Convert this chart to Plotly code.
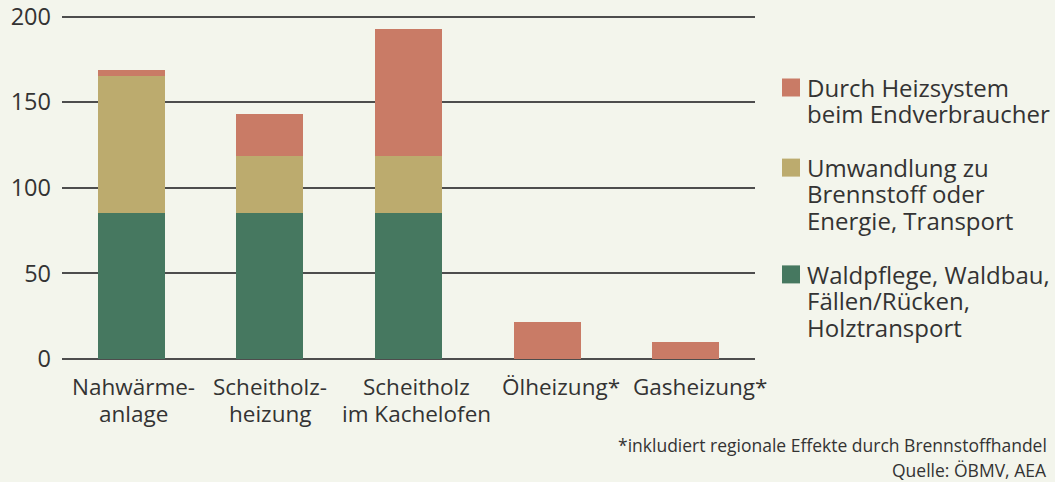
import plotly.graph_objects as go

# ---- data ----
categories = ["Nahwärme-<br>anlage", "Scheitholz-<br>heizung", "Scheitholz<br>im Kachelofen",
              "Ölheizung*", "Gasheizung*"]
name_wald = "Waldpflege, Waldbau,<br>Fällen/Rücken,<br>Holztransport"
name_umw = "Umwandlung zu<br>Brennstoff oder<br>Energie, Transport"
name_heiz = "Durch Heizsystem<br>beim Endverbraucher"
wald = [85, 85, 85, None, None]
umw = [80.5, 33.5, 33.5, None, None]
heiz = [3.3, 24.5, 74.5, 21.5, 10]
y_ticks = [0, 50, 100, 150, 200]
footnote = "*inkludiert regionale Effekte durch Brennstoffhandel"
source = "Quelle: ÖBMV, AEA"

# ---- style ----
C_WALD, C_UMW, C_HEIZ = "#467860", "#bcab6e", "#c97b66"
BG = "#f3f5ec"
TXT = "#333333"
GRID = "#4d4d4d"
FONT = "Open Sans"
K_BASE = 0.388  # baseline offset below bbox centre, in em

W, H = 1055, 482
L, R, T, B = 62, 300, 15, 123
PW, PH = W - L - R, H - T - B
label_xshift = [2, 0, 8, 14, 14]


def px_x(p):
    return (p - L) / PW


def px_y(p):
    return (H - B - p) / PH


fig = go.Figure()
for vals, name, col in [(wald, name_wald, C_WALD), (umw, name_umw, C_UMW), (heiz, name_heiz, C_HEIZ)]:
    fig.add_trace(go.Bar(x=categories, y=vals, name=name.replace("<br>", " "),
                         marker=dict(color=col, line=dict(width=0)),
                         showlegend=False, hoverinfo="y+name"))

shapes = []
annotations = []

# category labels (one annotation per line for tight line spacing)
CAT_FS, CAT_BASE, CAT_LS = 22.5, 395, 27.7
for i, cat in enumerate(categories):
    for j, line in enumerate(cat.split("<br>")):
        base = CAT_BASE + j * CAT_LS
        annotations.append(dict(xref="x", yref="paper", x=cat, y=px_y(base - K_BASE * CAT_FS),
                                xanchor="center", yanchor="middle", showarrow=False,
                                xshift=label_xshift[i], text=line,
                                font=dict(family=FONT, size=CAT_FS, color=TXT)))

# manual legend (top to bottom)
LEG_FS, LEG_BASE, LEG_LS = 24, 96.5, 26.7
k = 0
for name, col in [(name_heiz, C_HEIZ), (name_umw, C_UMW), (name_wald, C_WALD)]:
    lines = name.split("<br>")
    first_base = LEG_BASE + k * LEG_LS
    shapes.append(dict(type="rect", xref="paper", yref="paper",
                       x0=px_x(782), x1=px_x(800), y0=px_y(first_base - 18), y1=px_y(first_base),
                       fillcolor=col, line=dict(width=0)))
    for line in lines:
        base = LEG_BASE + k * LEG_LS
        annotations.append(dict(xref="paper", yref="paper", x=px_x(805), y=px_y(base - K_BASE * LEG_FS),
                                xanchor="left", yanchor="middle", showarrow=False, text=line,
                                font=dict(family=FONT, size=LEG_FS, color=TXT)))
        k += 1
    k += 1

FN_FS = 17.5
annotations.append(dict(xref="paper", yref="paper", x=px_x(1049), y=px_y(445), xanchor="right",
                        yanchor="middle", showarrow=False, text=footnote,
                        font=dict(family=FONT, size=FN_FS, color=TXT)))
annotations.append(dict(xref="paper", yref="paper", x=px_x(1049), y=px_y(470), xanchor="right",
                        yanchor="middle", showarrow=False, text=source,
                        font=dict(family=FONT, size=FN_FS, color=TXT)))

fig.update_layout(
    width=W, height=H,
    margin=dict(l=L, r=R, t=T, b=B, pad=0, autoexpand=False),
    paper_bgcolor=BG, plot_bgcolor=BG,
    barmode="stack", bargap=0.517,
    font=dict(family=FONT, size=22, color=TXT),
    shapes=shapes, annotations=annotations,
    xaxis=dict(range=[-0.5, len(categories) - 0.5], autorange=False, automargin=False, showgrid=False,
               zeroline=False, showline=False, ticks="", showticklabels=False),
    yaxis=dict(range=[0, 200.9], autorange=False, automargin=False, tickvals=y_ticks, showgrid=True,
               gridcolor=GRID, gridwidth=1.5, zeroline=True, zerolinecolor=GRID, zerolinewidth=1.5,
               showline=False, ticks="", ticklabeloverflow="allow",
               tickfont=dict(family=FONT, size=23.5, color=TXT), ticklabelstandoff=10),
)

fig.write_html("out.html", config={"displayModeBar": False},
               post_script="document.body.style.margin='0';document.body.style.padding='0';"
                           "document.body.style.background='" + BG + "';")
